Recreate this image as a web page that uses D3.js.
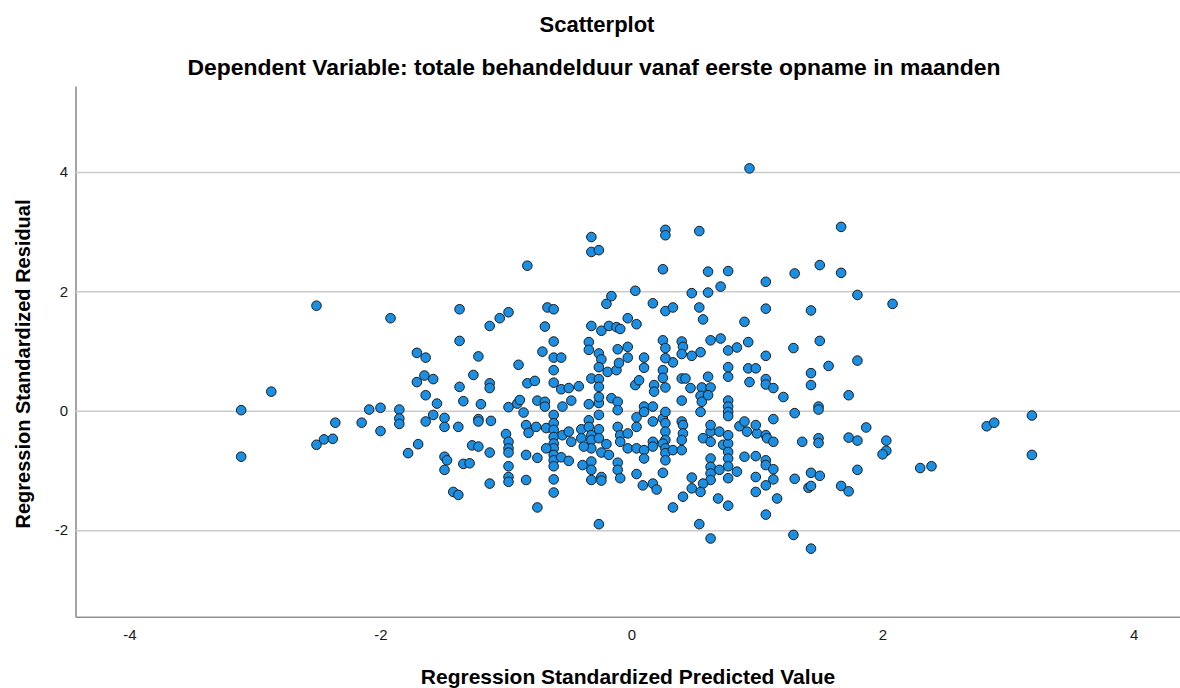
<!DOCTYPE html>
<html>
<head>
<meta charset="utf-8">
<script src="https://cdn.jsdelivr.net/npm/d3@7"></script>
<style>
  body { margin: 0; background: #fff; }
  svg { display: block; }
</style>
</head>
<body>
<svg id="chart"></svg>
<script>
const width = 1180;
const height = 688;

const chartTitle = "Scatterplot";
const chartSubtitle = "Dependent Variable: totale behandelduur vanaf eerste opname in maanden";
const xLabel = "Regression Standardized Predicted Value";
const yLabel = "Regression Standardized Residual";

const xTicks = [-4, -2, 0, 2, 4];
const yTicks = [-2, 0, 2, 4];

// regression standardized predicted value (x) per case
const predicted = [
  -2.51, -1.92, -2.87, -3.11, -3.11, -2.36, -2.51, -2.45, -2.38, -2.15,
  -2.09, -2.00, -2.00, -1.85, -1.85, -1.85, -1.78, -1.70, -1.71, -1.64,
  -1.65, -1.58, -1.71, -1.64, -1.55, -1.58, -1.49, -1.64, -1.49, -1.38,
  -1.49, -1.47, -1.49, -1.42, -1.38, -1.37, -1.37, -1.37, -1.34, -1.34,
  -0.32, -0.32, -0.26, -0.83, 0.03, -0.16, -0.20, -0.98, -1.05, -1.13,
  -0.67, -0.62, -0.69, -0.32, -0.24, -0.18, -0.12, -0.09, -0.03, 0.04,
  -1.22, -0.62, -0.71, -0.62, -0.56, -0.62, -0.90, -1.26, -1.13, -1.13,
  -0.83, -0.77, -0.62, -0.56, -0.50, -0.42, -0.34, -0.34, -0.26, -0.24,
  -0.26, -0.32, -0.26, -0.26, -0.19, -0.12, -0.10, -0.03, -0.03, -0.11,
  0.03, -1.20, -0.98, -0.91, -0.89, -0.86, -0.75, -0.69, -0.69, -0.55,
  -0.48, -0.34, -0.26, -0.26, -0.16, -0.11, -0.11, -0.62, -0.26, -1.22,
  -1.22, -1.12, -0.84, -0.82, -0.76, -0.68, -0.62, -0.62, -0.62, -0.62,
  -0.62, -0.62, -0.62, -0.62, -0.55, -0.50, -0.48, -0.40, -0.40, -0.34,
  -0.34, -0.32, -0.32, -0.26, -0.26, -0.32, -0.38, -0.20, -0.11, -0.09,
  -0.09, -0.03, 0.04, 0.04, -0.03, 0.04, -1.00, -0.98, -0.98, -0.98,
  -1.27, -1.22, -1.13, -1.29, -1.13, -0.98, -0.98, -0.98, -0.84, -0.75,
  -0.84, -0.68, -0.56, -0.50, -0.62, -0.62, -0.39, -0.32, -0.32, -0.32,
  -0.24, -0.24, -0.24, -0.18, -0.11, -0.11, -0.09, 0.04, -0.75, -0.26,
  0.94, 0.27, 0.27, 0.54, 0.25, 0.61, 0.77, 1.07, 1.30, 1.50,
  0.48, 0.61, 0.71, 0.17, 0.27, 0.33, 0.54, 0.57, 1.07, 1.43,
  0.90, 0.25, 0.27, 0.40, 0.41, 0.63, 0.71, 0.93, 0.77, 0.84,
  0.55, 0.48, 0.40, 0.33, 0.27, 0.10, 0.10, 1.29, 1.50, 1.07,
  0.77, 0.77, 0.93, 0.99, 0.25, 0.25, 0.40, 0.43, 0.61, 0.06,
  0.18, 0.27, 0.94, 1.07, 1.07, 1.43, 1.43, 1.57, 0.47, 0.56,
  0.63, 1.13, 0.18, 0.55, 0.56, 0.61, 1.21, 0.40, 0.77, 0.77,
  0.77, 0.77, 0.55, 0.10, 0.17, 0.10, 0.17, 0.25, 0.27, 0.27,
  0.40, 0.41, 0.41, 0.27, 0.27, 0.25, 0.27, 0.27, 0.27, 0.17,
  0.17, 0.10, 0.10, 0.33, 0.40, 0.40, 0.57, 0.63, 0.63, 0.63,
  0.70, 0.73, 0.77, 0.77, 0.77, 0.77, 0.77, 0.77, 0.84, 0.86,
  0.90, 0.92, 1.00, 0.99, 1.07, 1.08, 1.13, 1.13, 0.90, 0.99,
  1.07, 1.07, 1.13, 0.63, 0.63, 0.63, 0.63, 0.70, 0.57, 0.55,
  0.48, 0.48, 0.41, 0.33, 0.54, 0.63, 0.69, 0.77, 0.99, 0.99,
  1.07, 1.13, 1.16, 1.07, 0.09, 0.17, 0.20, 0.25, 1.29, 1.43,
  1.30, 1.36, 1.49, 1.49, 1.49, 1.49, 1.30, 1.43, 1.50, 1.41,
  1.43, 1.67, 1.67, 1.80, 2.08, 1.80, 1.73, 2.83, 2.89, 3.19,
  3.19, 1.87, 1.73, 1.80, 2.03, 2.03, 2.00, 1.80, 2.30, 2.39,
  1.67, 1.73
];

// regression standardized residual (y) per case
const residual = [
  1.76, 1.55, 0.32, 0.01, -0.77, -0.20, -0.57, -0.48, -0.47, -0.20,
  0.02, 0.05, -0.34, 0.02, -0.13, -0.22, -0.71, -0.56, 0.97, 0.89,
  0.59, 0.53, 0.48, 0.26, 0.12, -0.07, -0.12, -0.18, -0.27, -0.27,
  -0.77, -0.83, -0.99, -1.36, -1.41, 1.70, 1.17, 0.40, 0.16, -0.89,
  2.91, 2.66, 2.69, 2.43, 2.01, 1.92, 1.79, 1.65, 1.55, 1.42,
  1.73, 1.70, 1.41, 1.42, 1.34, 1.42, 1.40, 1.37, 1.55, 1.45,
  0.91, 1.16, 0.99, 0.89, 0.89, 0.68, 0.77, 0.60, 0.46, 0.38,
  0.46, 0.50, 0.47, 0.36, 0.38, 0.41, 1.15, 1.02, 0.96, 0.86,
  0.73, 0.54, 0.53, 0.40, 0.65, 0.68, 0.80, 0.89, 1.07, 1.03,
  0.43, 0.11, 0.06, 0.12, 0.18, -0.03, 0.17, 0.15, 0.07, 0.07,
  0.17, 0.11, 0.13, 0.23, 0.21, 0.15, 0.01, -0.07, -0.07, -0.14,
  -0.18, -0.17, -0.24, -0.37, -0.27, -0.29, -0.21, -0.32, -0.44, -0.55,
  -0.63, -0.74, -0.83, -0.93, -0.41, -0.35, -0.52, -0.31, -0.46, -0.16,
  -0.27, -0.41, -0.49, -0.31, -0.46, -0.63, -0.60, -0.56, -0.27, -0.41,
  -0.52, -0.38, -0.11, -0.27, -0.63, -0.63, -0.39, -0.52, -0.63, -0.70,
  -0.58, -0.60, -0.70, -0.88, -1.22, -0.93, -1.11, -1.19, -0.74, -0.79,
  -1.16, -0.63, -0.78, -0.84, -1.15, -1.37, -0.91, -0.85, -0.99, -1.16,
  -1.11, -1.17, -0.70, -0.74, -0.87, -0.99, -1.13, -1.06, -1.62, -1.90,
  4.06, 3.03, 2.94, 3.01, 2.37, 2.33, 2.34, 2.16, 2.30, 2.44,
  1.97, 1.98, 2.08, 1.80, 1.67, 1.73, 1.73, 1.53, 1.71, 1.68,
  1.49, 1.18, 1.05, 1.16, 1.07, 1.18, 1.21, 1.15, 1.01, 1.06,
  0.98, 0.92, 0.95, 0.81, 0.88, 0.89, 0.72, 1.05, 1.17, 0.92,
  0.73, 0.57, 0.71, 0.71, 0.68, 0.55, 0.54, 0.54, 0.57, 0.51,
  0.43, 0.39, 0.48, 0.53, 0.44, 0.63, 0.43, 0.75, 0.38, 0.39,
  0.39, 0.38, 0.32, 0.25, 0.15, 0.26, 0.23, 0.17, 0.17, 0.07,
  -0.02, -0.09, -0.02, 0.07, 0.07, -0.02, -0.18, -0.13, -0.02, -0.21,
  -0.18, -0.24, -0.38, -0.35, -0.49, -0.55, -0.63, -0.71, -0.83, -0.52,
  -0.60, -0.66, -0.80, -0.66, -0.66, -0.49, -0.46, -0.52, -0.35, -0.24,
  -0.35, -0.57, -0.55, -0.41, -0.69, -0.80, -0.93, -1.13, -1.02, -0.26,
  -0.18, -0.35, -0.38, -0.24, -0.41, -0.46, -0.52, -0.14, -0.77, -0.76,
  -0.83, -0.91, -0.98, -0.80, -0.94, -1.05, -1.16, -0.99, -1.22, -1.36,
  -1.30, -1.12, -1.44, -1.62, -1.90, -2.14, -1.47, -1.59, -1.11, -1.36,
  -1.25, -1.15, -1.47, -1.74, -1.25, -1.22, -1.32, -1.04, -2.08, -2.31,
  -0.04, -0.52, 0.07, 0.02, -0.46, -0.54, -1.14, -1.04, -1.09, -1.29,
  -1.26, 3.08, 2.31, 1.94, 1.79, 0.84, 0.26, -0.26, -0.20, -0.08,
  -0.74, -0.28, -0.45, -0.50, -0.50, -0.67, -0.73, -0.99, -0.96, -0.93,
  -1.26, -1.35
];

const data = predicted.map((p, i) => ({ pred: p, resid: residual[i] }));

const svg = d3.select('#chart')
    .attr('width', width)
    .attr('height', height)
    .style('font-family', '"Liberation Sans", Arial, sans-serif');

const x = d3.scaleLinear().domain([-4.43, 4.37]).range([75.5, 1180]);
const y = d3.scaleLinear().domain([-3.45, 5.44]).range([616.7, 86]);

// titles
svg.append('text')
    .attr('x', 597).attr('y', 32)
    .attr('text-anchor', 'middle')
    .style('font-size', '22px').style('font-weight', 'bold')
    .text(chartTitle);

svg.append('text')
    .attr('x', 594).attr('y', 75)
    .attr('text-anchor', 'middle')
    .style('font-size', '22.9px').style('font-weight', 'bold')
    .text(chartSubtitle);

// y axis with horizontal grid lines
const yAxis = svg.append('g')
    .attr('transform', `translate(${x.range()[0]},0)`)
    .call(d3.axisLeft(y)
        .tickValues(yTicks)
        .tickSize(-(x.range()[1] - x.range()[0]))
        .tickSizeOuter(0)
        .tickPadding(7.5)
        .tickFormat(d => String(d)));

yAxis.selectAll('.tick line')
    .attr('stroke', '#cbcbcb')
    .attr('stroke-width', 1.5);
yAxis.select('.domain')
    .attr('stroke', '#8f8f8f')
    .attr('stroke-width', 1.6);
yAxis.selectAll('.tick text')
    .style('font-size', '15px')
    .attr('fill', '#1a1a1a');

// x axis
const xAxis = svg.append('g')
    .attr('transform', `translate(0,${y.range()[0]})`)
    .call(d3.axisBottom(x)
        .tickValues(xTicks)
        .tickSize(0)
        .tickPadding(12.7)
        .tickFormat(d => String(d)));

xAxis.select('.domain')
    .attr('stroke', '#8f8f8f')
    .attr('stroke-width', 1.6);
xAxis.selectAll('.tick text')
    .style('font-size', '15px')
    .attr('fill', '#1a1a1a');

// axis titles
svg.append('text')
    .attr('x', 628).attr('y', 684)
    .attr('text-anchor', 'middle')
    .style('font-size', '21px').style('font-weight', 'bold')
    .text(xLabel);

svg.append('text')
    .attr('transform', 'translate(30,364) rotate(-90)')
    .attr('text-anchor', 'middle')
    .style('font-size', '20px').style('font-weight', 'bold')
    .text(yLabel);

// points
svg.append('g')
    .selectAll('circle')
    .data(data)
    .enter().append('circle')
    .attr('cx', d => x(d.pred))
    .attr('cy', d => y(d.resid))
    .attr('r', 4.8)
    .attr('fill', '#1a8fe3')
    .attr('stroke', '#1c1c1c')
    .attr('stroke-width', 1);
</script>
</body>
</html>
